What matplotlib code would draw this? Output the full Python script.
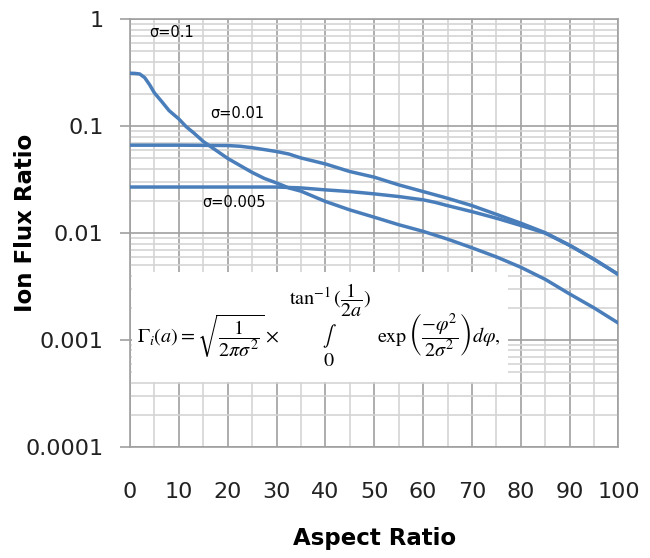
import numpy as np
import matplotlib
matplotlib.use("Agg")
from matplotlib import pyplot as plt
from matplotlib.patches import Rectangle
from matplotlib.ticker import LogLocator, NullFormatter

# sigma = 0.1 (steep curve)
x_s1 = [0, 1, 2, 3, 4, 5, 6.5, 8, 10, 11.5, 13, 15, 17.5, 20, 22.5, 25, 27.5, 30, 32.5, 35,
        40, 45, 50, 55, 60, 65, 70, 75, 80, 85, 90, 95, 100]
y_s1 = [0.313, 0.312, 0.308, 0.285, 0.245, 0.205, 0.170, 0.140, 0.117, 0.099, 0.087, 0.072,
        0.060, 0.050, 0.043, 0.037, 0.0325, 0.0295, 0.0265, 0.0247, 0.0198, 0.0165, 0.0141,
        0.0120, 0.0104, 0.0088, 0.0073, 0.0060, 0.0048, 0.0037, 0.0027, 0.0020, 0.00144]
# sigma = 0.01
x_s2 = [0, 10, 20, 22.5, 25, 27.5, 30, 32.5, 35, 40, 45, 50, 55, 60, 62.5, 65, 70, 75, 80,
        85, 90, 95, 100]
y_s2 = [0.0665, 0.0665, 0.066, 0.065, 0.063, 0.0605, 0.058, 0.055, 0.0505, 0.0444, 0.0377,
        0.0334, 0.0283, 0.0245, 0.0228, 0.0212, 0.0181, 0.0150, 0.0124, 0.0101, 0.0077,
        0.0057, 0.0041]
# sigma = 0.005
x_s3 = [0, 10, 20, 30, 35, 40, 45, 50, 55, 60, 62.5, 65, 70, 75, 80, 83, 85, 90, 95, 100]
y_s3 = [0.027, 0.027, 0.027, 0.027, 0.0265, 0.0254, 0.0245, 0.0233, 0.022, 0.0205, 0.0194,
        0.0181, 0.0159, 0.0138, 0.0118, 0.0107, 0.0100, 0.0077, 0.0057, 0.0041]

ytick_vals = [1, 0.1, 0.01, 0.001, 0.0001]
ytick_text = ['1', '0.1', '0.01', '0.001', '0.0001']
xtick_vals = [0, 10, 20, 30, 40, 50, 60, 70, 80, 90, 100]

blue = '#4a7ebb'
dark = '#a0a0a0'
light = '#d4d4d4'

fig = plt.figure(figsize=(6.5, 5.58), dpi=100)
ax = fig.add_axes([0.2, 0.1989, 0.7515, 0.7665])

ax.plot(x_s1, y_s1, color=blue, lw=2.5, zorder=3)
ax.plot(x_s2, y_s2, color=blue, lw=2.5, zorder=3)
ax.plot(x_s3, y_s3, color=blue, lw=2.5, zorder=3)

ax.set_yscale('log')
ax.set_ylim(0.0001, 1)
ax.set_xlim(0, 100)
ax.set_yticks(ytick_vals)
ax.set_yticklabels(ytick_text)
ax.yaxis.set_minor_locator(LogLocator(base=10, subs=np.arange(2, 10)))
ax.yaxis.set_minor_formatter(NullFormatter())
ax.set_xticks(xtick_vals)
ax.set_xticks(np.arange(5, 100, 10), minor=True)

ax.grid(which='major', axis='both', color=dark, lw=1.2)
ax.grid(which='minor', axis='both', color=light, lw=1.2)

ax.tick_params(axis='x', which='both', length=0, pad=25, labelsize=16, labelcolor='#222222')
ax.tick_params(axis='y', which='major', length=7, color=dark, width=1.2, pad=12,
               labelsize=16, labelcolor='#222222')
ax.tick_params(axis='y', which='minor', length=0)
for s in ax.spines.values():
    s.set_color(dark)
    s.set_linewidth(1.2)

ax.set_xlabel('Aspect Ratio', fontsize=16.5, fontweight='bold', labelpad=18)
ax.set_ylabel('Ion Flux Ratio', fontsize=16.5, fontweight='bold')
ax.yaxis.set_label_coords(-0.19, 0.524)

ax.text(8.6, 0.745, 'σ=0.1', fontsize=10.5, ha='center', va='center')
ax.text(21.9, 0.132, 'σ=0.01', fontsize=10.5, ha='center', va='center')
ax.text(21.3, 0.0195, 'σ=0.005', fontsize=10.5, ha='center', va='center')

# white box behind the formula
ax.add_patch(Rectangle((0.004, 0.152), 0.77, 0.257, transform=ax.transAxes,
                       facecolor='white', edgecolor='none', zorder=2))


def px(x, y):
    return x / 650, 1 - y / 558


fs = 14.5
kw = dict(fontsize=fs, math_fontfamily='stix', va='center')
fig.text(*px(137, 336), r'$\Gamma_i(a) = \sqrt{\dfrac{1}{2\pi\sigma^2}}\times$', ha='left', **kw)
fig.text(*px(330, 300), r'$\tan^{-1}(\dfrac{1}{2a})$', ha='center', **kw)
fig.text(*px(329, 336), r'$\int$', ha='center', **kw)
fig.text(*px(329, 361), r'$0$', ha='center', **kw)
fig.text(*px(377, 336), r'$\exp\left(\dfrac{-\varphi^2}{2\sigma^2}\right)d\varphi,$', ha='left', **kw)

fig.savefig('out.png', dpi=100)
